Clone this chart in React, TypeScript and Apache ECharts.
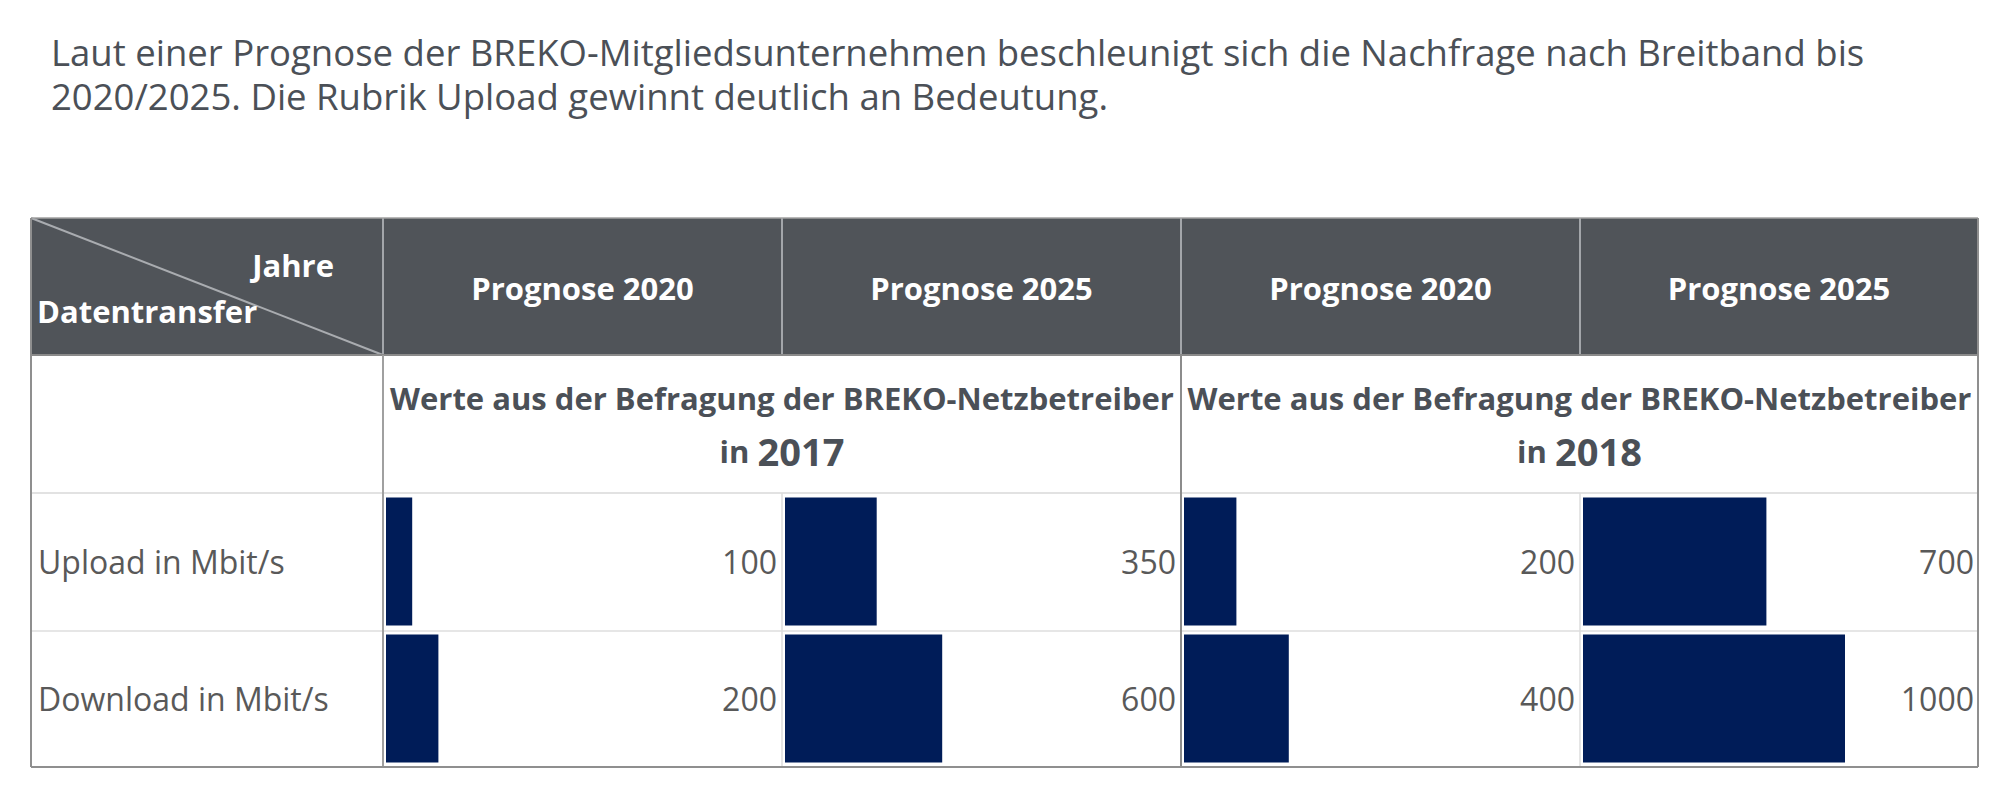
import React, { useEffect, useRef } from "react";
import * as echarts from "echarts";

// ---------- data ----------
const titleLines = [
  "Laut einer Prognose der BREKO-Mitgliedsunternehmen beschleunigt sich die Nachfrage nach Breitband bis",
  "2020/2025. Die Rubrik Upload gewinnt deutlich an Bedeutung.",
];
const cornerTop = "Jahre";
const cornerBottom = "Datentransfer";
const columnHeaders = ["Prognose 2020", "Prognose 2025", "Prognose 2020", "Prognose 2025"];
const surveyText = "Werte aus der Befragung der BREKO-Netzbetreiber";
const surveyYears = ["2017", "2018"];
const categories = ["Upload in Mbit/s", "Download in Mbit/s"];
const survey2017Forecast2020 = [100, 200];
const survey2017Forecast2025 = [350, 600];
const survey2018Forecast2020 = [200, 400];
const survey2018Forecast2025 = [700, 1000];
const columnValues = [
  survey2017Forecast2020,
  survey2017Forecast2025,
  survey2018Forecast2020,
  survey2018Forecast2025,
];
const axisMax = 1500;

// ---------- layout ----------
const colX = [31, 383, 782, 1181, 1580, 1978];
const rowY = [218, 355, 493, 631, 767];
const FONT = "'Open Sans', 'Noto Sans', sans-serif";
const BAR_COLOR = "#001c58";
const HEADER_BG = "#505459";
const TEXT_DARK = "#4b5057";
const TEXT_GRAY = "#595959";

function buildOption() {
  const grids: any[] = [];
  const xAxes: any[] = [];
  const yAxes: any[] = [];
  const series: any[] = [];

  columnValues.forEach((vals, i) => {
    const left = colX[i + 1] + 3;
    grids.push({
      left,
      width: 393,
      top: rowY[2],
      height: rowY[4] - rowY[2],
      containLabel: false,
    });
    xAxes.push({
      type: "value",
      gridIndex: i,
      min: 0,
      max: axisMax,
      show: false,
    });
    yAxes.push({
      type: "category",
      gridIndex: i,
      data: categories,
      inverse: true,
      axisLine: { show: false },
      axisTick: { show: false },
      splitLine: { show: false },
      axisLabel:
        i === 0
          ? {
              show: true,
              align: "left",
              margin: left - 38,
              fontSize: 32,
              fontFamily: FONT,
              color: TEXT_GRAY,
            }
          : { show: false },
    });
    series.push({
      type: "bar",
      name: columnHeaders[i] + " (" + surveyYears[i < 2 ? 0 : 1] + ")",
      xAxisIndex: i,
      yAxisIndex: i,
      data: vals,
      barWidth: 128,
      itemStyle: { color: BAR_COLOR },
      z: 3,
    });
    series.push({
      type: "bar",
      name: "label" + i,
      xAxisIndex: i,
      yAxisIndex: i,
      data: vals.map(() => axisMax),
      barWidth: 128,
      barGap: "-100%",
      silent: true,
      itemStyle: { color: "rgba(0,0,0,0)" },
      label: {
        show: true,
        position: "insideRight",
        distance: 2,
        formatter: (p: any) => String(vals[p.dataIndex]),
        fontSize: 32,
        fontFamily: FONT,
        color: TEXT_GRAY,
      },
      z: 2,
    });
  });

  const line = (x1: number, y1: number, x2: number, y2: number, stroke: string, lw: number) => ({
    type: "line",
    shape: { x1, y1, x2, y2 },
    style: { stroke, lineWidth: lw },
    silent: true,
  });

  const graphics: any[] = [];
  // title lines
  titleLines.forEach((t, k) => {
    graphics.push({
      type: "text",
      silent: true,
      style: {
        text: t,
        x: 51,
        y: 52 + k * 44,
        align: "left",
        verticalAlign: "middle",
        fontSize: 36.5,
        lineHeight: 40,
        fontWeight: "normal",
        fontFamily: FONT,
        fill: TEXT_DARK,
      },
    });
  });
  // header background
  graphics.push({
    type: "rect",
    shape: { x: colX[0], y: rowY[0], width: colX[5] - colX[0], height: rowY[1] - rowY[0] },
    style: { fill: HEADER_BG },
    silent: true,
  });
  // header separators
  for (let k = 1; k <= 4; k++) graphics.push(line(colX[k], rowY[0], colX[k], rowY[1], "#a3a6aa", 2));
  // diagonal
  graphics.push(line(colX[0], rowY[0], colX[1], rowY[1], "#a9acb0", 2));
  // top border
  graphics.push(line(colX[0], rowY[0], colX[5], rowY[0], "#a0a0a0", 1.5));
  // header bottom
  graphics.push(line(colX[0], rowY[1], colX[5], rowY[1], "#8a8a8a", 2));
  // horizontal row lines
  graphics.push(line(colX[0], rowY[2], colX[5], rowY[2], "#e2e2e2", 2));
  graphics.push(line(colX[0], rowY[3], colX[5], rowY[3], "#e6e6e6", 2));
  // body verticals
  graphics.push(line(colX[2], rowY[2], colX[2], rowY[4], "#dcdcdc", 1.5));
  graphics.push(line(colX[4], rowY[2], colX[4], rowY[4], "#dcdcdc", 1.5));
  graphics.push(line(colX[1], rowY[1], colX[1], rowY[4], "#a0a0a0", 2));
  graphics.push(line(colX[3], rowY[1], colX[3], rowY[4], "#8c8c8c", 2));
  // outer border
  graphics.push(line(colX[0], rowY[0], colX[0], rowY[4], "#8f8f8f", 2));
  graphics.push(line(colX[5], rowY[0], colX[5], rowY[4], "#8f8f8f", 2));
  graphics.push(line(colX[0], rowY[4], colX[5], rowY[4], "#8f8f8f", 2));

  // corner texts
  graphics.push({
    type: "text",
    silent: true,
    style: {
      text: cornerTop,
      x: 334,
      y: 265,
      align: "right",
      verticalAlign: "middle",
      fontSize: 31,
      fontWeight: "bold",
      fontFamily: FONT,
      fill: "#ffffff",
    },
  });
  graphics.push({
    type: "text",
    silent: true,
    style: {
      text: cornerBottom,
      x: 37,
      y: 311,
      align: "left",
      verticalAlign: "middle",
      fontSize: 31,
      fontWeight: "bold",
      fontFamily: FONT,
      fill: "#ffffff",
    },
  });
  // column headers
  columnHeaders.forEach((h, i) => {
    graphics.push({
      type: "text",
      silent: true,
      style: {
        text: h,
        x: (colX[i + 1] + colX[i + 2]) / 2,
        y: 288,
        align: "center",
        verticalAlign: "middle",
        fontSize: 31,
        fontWeight: "bold",
        fontFamily: FONT,
        fill: "#ffffff",
      },
    });
  });
  // survey sub headers
  surveyYears.forEach((yr, j) => {
    const cx = (colX[1 + 2 * j] + colX[3 + 2 * j]) / 2;
    graphics.push({
      type: "text",
      silent: true,
      style: {
        text: surveyText,
        x: cx,
        y: 398,
        align: "center",
        verticalAlign: "middle",
        fontSize: 31,
        fontWeight: "bold",
        fontFamily: FONT,
        fill: TEXT_DARK,
      },
    });
    graphics.push({
      type: "text",
      silent: true,
      style: {
        text: "{a|in }{b|" + yr + "}",
        x: cx,
        y: 451,
        align: "center",
        verticalAlign: "middle",
        rich: {
          a: { fontSize: 31, fontWeight: "bold", fontFamily: FONT, fill: TEXT_DARK, color: TEXT_DARK },
          b: { fontSize: 38, fontWeight: "bold", fontFamily: FONT, fill: TEXT_DARK, color: TEXT_DARK },
        },
      },
    });
  });

  return {
    animation: false,
    backgroundColor: "#ffffff",
    grid: grids,
    xAxis: xAxes,
    yAxis: yAxes,
    series,
    graphic: { elements: graphics },
  };
}

export default function App() {
  const ref = useRef<HTMLDivElement>(null);
  useEffect(() => {
    document.body.style.margin = "0";
    if (!ref.current) return;
    const chart = echarts.init(ref.current, undefined, { renderer: "svg" });
    chart.setOption(buildOption() as any);
    return () => chart.dispose();
  }, []);
  return <div ref={ref} style={{ width: 2000, height: 795 }} />;
}
